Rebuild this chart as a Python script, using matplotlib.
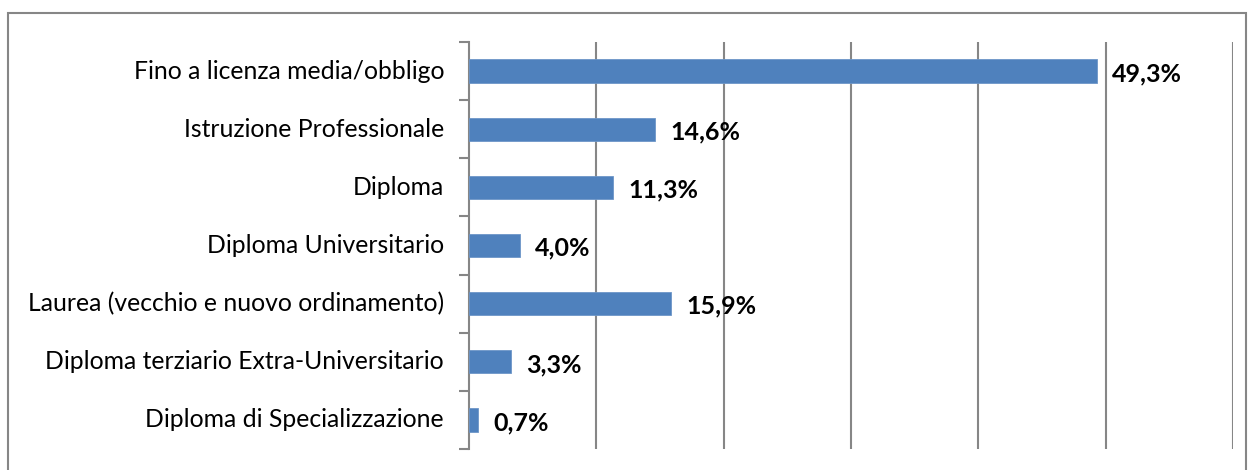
import matplotlib.pyplot as plt
import matplotlib.patches as mpatches
import numpy as np

categories = ["Fino a licenza media/obbligo", "Istruzione Professionale", "Diploma",
              "Diploma Universitario", "Laurea (vecchio e nuovo ordinamento)",
              "Diploma terziario Extra-Universitario", "Diploma di Specializzazione"]
values = [49.3, 14.6, 11.3, 4.0, 15.9, 3.3, 0.7]
value_labels = ["49,3%", "14,6%", "11,3%", "4,0%", "15,9%", "3,3%", "0,7%"]

plt.rcParams['font.family'] = ['Lato', 'DejaVu Sans']

fig = plt.figure(figsize=(12.52, 4.7), dpi=100)
ax = fig.add_axes([469/1252, 1-449/470, (1233-469)/1252, (449-42)/470])

# outer chart frame
frame = mpatches.Rectangle((8/1252, -0.05), (1246-8)/1252, 1-13/470+0.05,
                           transform=fig.transFigure, fill=False,
                           edgecolor='#868686', linewidth=1.5, clip_on=False)
fig.patches.append(frame)

n = len(categories)
y = np.arange(n)
ax.barh(y, values, height=0.4, color='#4F81BD', edgecolor='#6D96C8', linewidth=0.6, zorder=3)

# value labels, slightly below bar centre like the original
for yi, v, lab in zip(y, values, value_labels):
    ax.annotate(lab, (v, yi), xytext=(11, -2), textcoords='offset points',
                ha='left', va='center', fontsize=18, fontweight='bold', color='black')

ax.set_xlim(0, 60)
ax.set_ylim(n - 0.5, -0.5)
ax.set_xticks(np.arange(10, 61, 10))
ax.xaxis.grid(True, color='#868686', linewidth=1.5, zorder=0)
ax.tick_params(axis='x', length=0, labelbottom=False)

ax.set_yticks(y)
ax.set_yticklabels(categories, fontsize=17.8, va='center')
for t in ax.get_yticklabels():
    t.set_y(t.get_position()[1])
ax.set_yticks(np.arange(-0.5, n, 1), minor=True)
ax.tick_params(axis='y', which='major', length=0, pad=18)
ax.tick_params(axis='y', which='minor', length=7, width=1.5, color='#868686')

for s in ['top', 'right', 'bottom']:
    ax.spines[s].set_visible(False)
ax.spines['left'].set_color('#868686')
ax.spines['left'].set_linewidth(1.5)

fig.savefig('out.png', dpi=100)
